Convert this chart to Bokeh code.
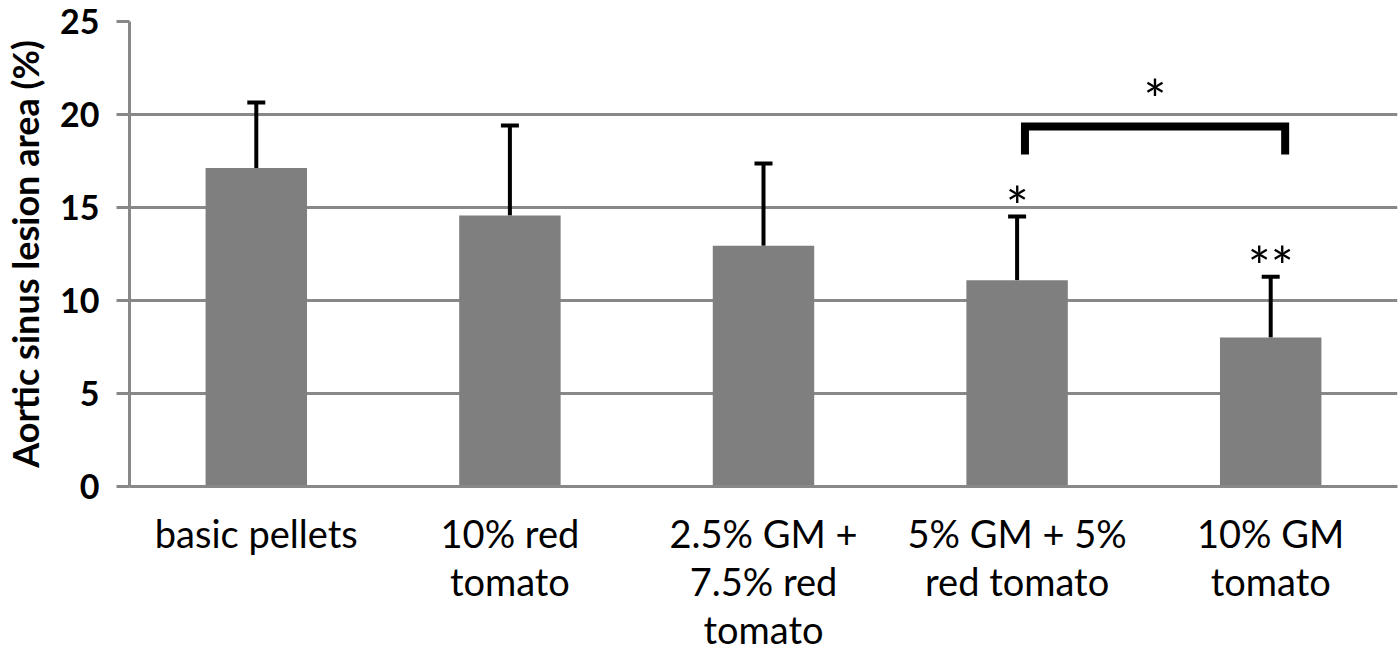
from bokeh.plotting import figure
from bokeh.models import FactorRange, Range1d, Whisker, ColumnDataSource, TeeHead, FixedTicker
from bokeh.core.properties import value
from bokeh.embed import file_html
from bokeh.resources import INLINE

# ---- data ----
categories = ["basic pellets", "10% red\ntomato", "2.5% GM +\n7.5% red\ntomato",
              "5% GM + 5%\nred tomato", "10% GM\ntomato"]
lesion_mean = [17.13, 14.57, 12.95, 11.09, 8.01]
lesion_sd = [3.51, 4.84, 4.41, 3.43, 3.27]
significance = ["", "", "", "*", "**"]
y_ticks = [0, 5, 10, 15, 20, 25]
bracket_label = "*"
bracket_pair = [3, 4]

FONT = "Lato"
GRID = "#888888"
BAR = "#7f7f7f"

upper = [m + s for m, s in zip(lesion_mean, lesion_sd)]
src = ColumnDataSource(dict(cat=categories, mean=lesion_mean, upper=upper))

p = figure(x_range=FactorRange(factors=categories, range_padding=0),
           y_range=Range1d(0, 25), width=1400, height=655,
           output_backend="svg", toolbar_location=None,
           min_border_left=0, min_border_right=3, min_border_top=21, min_border_bottom=0)
p.outline_line_color = None
p.background_fill_color = "white"
p.border_fill_color = "white"

p.vbar(x="cat", top="mean", width=0.4, source=src, fill_color=BAR, line_color=None)

w = Whisker(base="cat", lower="mean", upper="upper", source=src,
            line_color="black", line_width=4, lower_head=None,
            upper_head=TeeHead(size=18, line_width=4, line_color="black"))
p.add_layout(w)

STAR_SIZE = "54px"
# significance stars over bars
star_src = ColumnDataSource(dict(cat=categories, y=[u + 0.6 for u in upper], t=significance))
p.text(x="cat", y="y", text="t", source=star_src, text_align="center",
       text_baseline="middle", text_font=value(FONT), text_font_size=STAR_SIZE,
       text_color="black")

# bracket
i, j = bracket_pair
b_top = 19.35
b_bot = 17.85
xl = i + 0.5 + 0.031
xr = j + 0.5 + 0.057
p.line(x=[xl, xl, xr, xr], y=[b_bot, b_top, b_top, b_bot], line_color="black",
       line_width=8, line_join="miter")
p.text(x=[(xl + xr) / 2], y=[b_top + 1.5], text=[bracket_label], text_align="center",
       text_baseline="middle", text_font=value(FONT), text_font_size=STAR_SIZE,
       text_color="black")

# axes
p.xgrid.grid_line_color = None
p.ygrid.grid_line_color = GRID
p.ygrid.grid_line_width = 3
p.yaxis.ticker = FixedTicker(ticks=y_ticks)
p.yaxis.axis_line_color = GRID
p.yaxis.axis_line_width = 3
p.yaxis.major_tick_line_color = GRID
p.yaxis.major_tick_line_width = 3
p.yaxis.major_tick_out = 13
p.yaxis.major_tick_in = 0
p.yaxis.minor_tick_line_color = None
p.yaxis.major_label_text_font = FONT
p.yaxis.major_label_text_font_style = "bold"
p.yaxis.major_label_text_font_size = "34px"
p.yaxis.major_label_text_color = "black"
p.yaxis.major_label_standoff = 17
p.yaxis.axis_label = "Aortic sinus lesion area (%)"
p.yaxis.axis_label_text_font = FONT
p.yaxis.axis_label_text_font_style = "bold"
p.yaxis.axis_label_text_font_size = "36px"
p.yaxis.axis_label_text_color = "black"
p.yaxis.axis_label_standoff = 10

p.xaxis.axis_line_color = GRID
p.xaxis.axis_line_width = 3
p.xaxis.major_tick_line_color = None
p.xaxis.minor_tick_line_color = None
p.xaxis.major_label_text_font = FONT
p.xaxis.major_label_text_font_size = "38px"
p.xaxis.major_label_text_color = "black"
p.xaxis.major_label_standoff = 17
p.xaxis.major_label_text_line_height = 1.05

open("out.html", "w").write(file_html(p, INLINE))
